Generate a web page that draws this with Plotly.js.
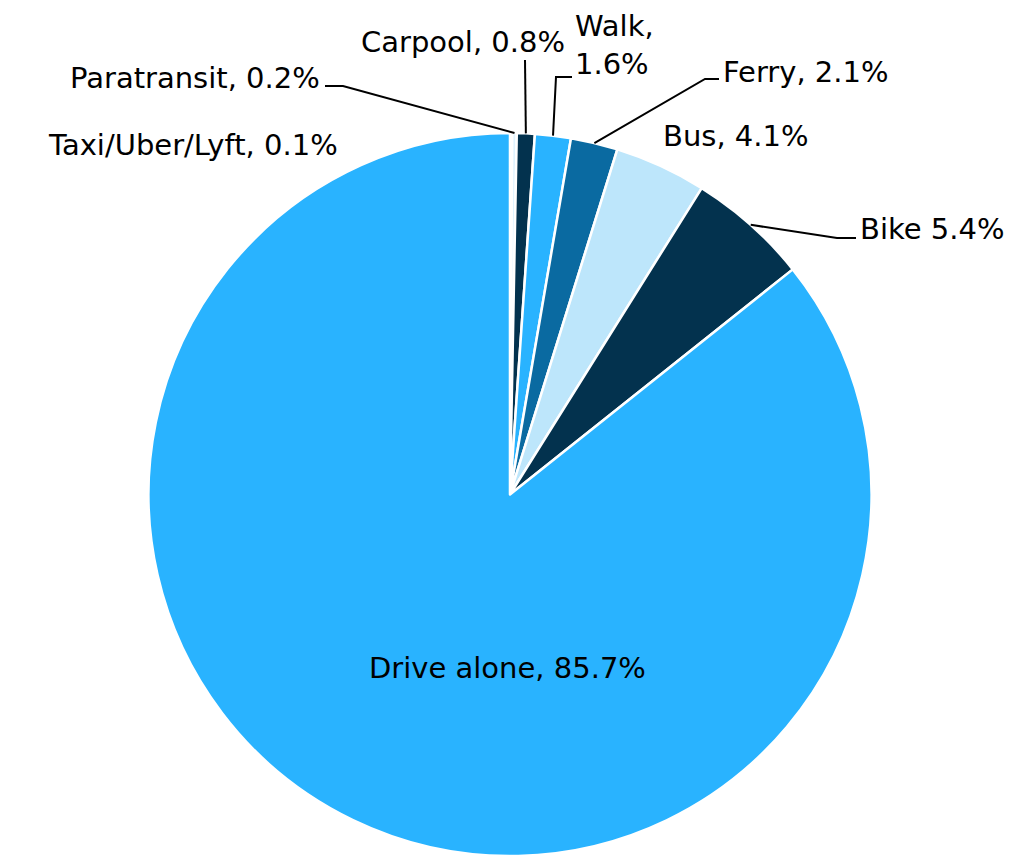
<!DOCTYPE html>
<html>
<head>
<meta charset="utf-8">
<script src="https://cdn.plot.ly/plotly-3.0.1.min.js"></script>
<style>html,body{margin:0;padding:0;background:#fff;}#chart{width:1017px;height:856px;}</style>
</head>
<body>
<div id="chart"></div>
<script>
// Data (clockwise from 12 o'clock)
var categories = ["Taxi/Uber/Lyft", "Paratransit", "Carpool", "Walk", "Ferry", "Bus", "Bike", "Drive alone"];
var shares = [0.1, 0.2, 0.8, 1.6, 2.1, 4.1, 5.4, 85.7];
var labelTexts = ["Taxi/Uber/Lyft, 0.1%", "Paratransit, 0.2%", "Carpool, 0.8%", "Walk,<br>1.6%", "Ferry, 2.1%", "Bus, 4.1%", "Bike 5.4%", "Drive alone, 85.7%"];
var sliceColors = ["#ffffff", "#dff3ff", "#03324e", "#29b3ff", "#0a6aa1", "#bde6fb", "#03324e", "#29b3ff"];

var W = 1017, H = 856;
var domX = [0.1455, 0.8574], domY = [0.0, 0.8446];
var cxp = (domX[0] + domX[1]) / 2 * W;
var cyp = H - (domY[0] + domY[1]) / 2 * H;
var R = Math.min((domX[1] - domX[0]) * W, (domY[1] - domY[0]) * H) / 2;

// edge point of slice i (mid-angle), in paper coords
var total = shares.reduce(function (a, b) { return a + b; }, 0);
function edgePoint(i) {
  var cum = 0;
  for (var k = 0; k < i; k++) cum += shares[k];
  var frac = (cum + shares[i] / 2) / total;
  var a = frac * 2 * Math.PI;
  var px = cxp + R * Math.sin(a);
  var py = cyp - R * Math.cos(a);
  return [px / W, 1 - py / H];
}
function P(x, y) { return [x / W, 1 - y / H]; }

var font = {family: "'DejaVu Sans', sans-serif", size: 29, color: "#000"};

// label placements (pixel positions of text) and leader elbows
var labelPos = {
  0: {x: 340, y: 145, xa: "right"},
  1: {x: 322, y: 78, xa: "right", elbow: [[343, 86], [325, 86]]},
  2: {x: 567, y: 42, xa: "right", elbow: [[525, 60]]},
  3: {x: 573, y: 45, xa: "left", elbow: [[556, 77], [572, 77]]},
  4: {x: 721, y: 72, xa: "left", elbow: [[705, 79], [719, 79]]},
  5: {x: 661, y: 136, xa: "left"},
  6: {x: 858, y: 229, xa: "left", elbow: [[837, 238], [856, 238]]},
  7: {x: 507, y: 668, xa: "center"}
};

var annotations = [], shapes = [];
for (var i = 0; i < categories.length; i++) {
  var lp = labelPos[i];
  var p = P(lp.x, lp.y);
  annotations.push({
    xref: "paper", yref: "paper", x: p[0], y: p[1],
    xanchor: lp.xa, yanchor: "middle", text: labelTexts[i],
    showarrow: false, font: font, align: "left"
  });
  if (lp.elbow) {
    var e = edgePoint(i);
    var path = "M" + e[0] + "," + e[1];
    lp.elbow.forEach(function (pt) { var q = P(pt[0], pt[1]); path += " L" + q[0] + "," + q[1]; });
    shapes.push({type: "path", xref: "paper", yref: "paper", path: path, line: {color: "#000", width: 2}});
  }
}

var trace = {
  type: "pie",
  labels: categories,
  values: shares,
  sort: false,
  direction: "clockwise",
  rotation: 0,
  marker: {colors: sliceColors, line: {color: "#ffffff", width: 2.5}},
  textinfo: "none",
  hoverinfo: "label+percent",
  showlegend: false,
  domain: {x: domX, y: domY},
  automargin: false
};

var layout = {
  width: W, height: H,
  margin: {l: 0, r: 0, t: 0, b: 0},
  paper_bgcolor: "#ffffff",
  showlegend: false,
  annotations: annotations,
  shapes: shapes
};

Plotly.newPlot("chart", [trace], layout, {displayModeBar: false, staticPlot: true});
</script>
</body>
</html>
